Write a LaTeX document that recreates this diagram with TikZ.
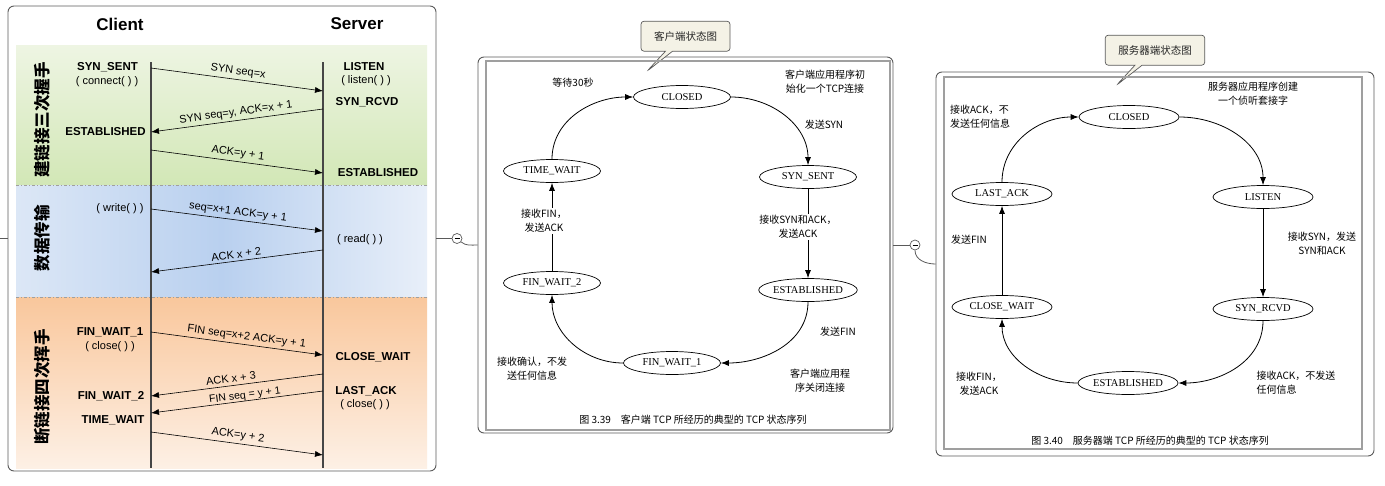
\documentclass[tikz,border=0pt]{standalone}
\usepackage{fontspec}
\setmainfont{Liberation Sans}
\newfontfamily\cjk{Noto Sans CJK SC}
\newfontfamily\scanfont{Liberation Serif}
\usetikzlibrary{arrows.meta,positioning,shapes.geometric,shapes.callouts}

\definecolor{greenTop}{HTML}{EEF5E3}
\definecolor{greenBot}{HTML}{D2E7B6}
\definecolor{blueSide}{HTML}{DCE7F6}
\definecolor{blueMid}{HTML}{B9D0EF}
\definecolor{blueRight}{HTML}{E8EFF9}
\definecolor{orangeTop}{HTML}{F9C79C}
\definecolor{orangeBot}{HTML}{FDF0E5}
\definecolor{tipfill}{HTML}{F4F2E6}
\definecolor{edgegray}{HTML}{5A5A5A}

\tikzset{
  panel/.style={draw=edgegray, line width=0.9pt, rounded corners=6pt, fill=white},
  imgframe/.style={draw=gray!75, line width=1.4pt},
  link/.style={draw=edgegray, line width=0.8pt},
  tog/.style={circle, draw=edgegray, fill=white, line width=0.7pt, minimum size=10pt, inner sep=0pt},
  tipbox/.style={rectangle callout, draw=edgegray, fill=tipfill, rounded corners=3pt, line width=0.7pt,
    font=\cjk\fontsize{10.5}{12}\selectfont, text=black!85, inner xsep=13pt, minimum height=30pt,
    callout relative pointer={(-22pt,-20pt)}},
  headtxt/.style={font=\bfseries\fontsize{17}{20}\selectfont},
  phase/.style={rotate=90, font=\cjk\bfseries\fontsize{16.5}{18}\selectfont},
  phasesep/.style={draw=gray!75, line width=0.6pt, dash pattern=on 3pt off 2pt on 1pt off 2pt},
  life/.style={draw=gray!55!black, line width=1.1pt},
  stlbl/.style={font=\bfseries\fontsize{11.5}{13}\selectfont, inner sep=0pt},
  fnlbl/.style={font=\fontsize{11}{13}\selectfont, inner sep=0pt},
  msg/.style={-{Latex[length=8pt,width=6pt]}, line width=0.6pt},
  msglbl/.style={font=\fontsize{11}{13}\selectfont, sloped, above, inner sep=2.5pt},
  stc/.style={ellipse, draw, line width=0.7pt, minimum width=97pt, minimum height=23pt, inner sep=0pt,
    font=\scanfont\fontsize{10.5}{12}\selectfont},
  sarr/.style={-{Latex[length=8pt,width=6pt]}, line width=0.8pt},
  note/.style={font=\cjk\fontsize{10}{14}\selectfont, align=center, inner sep=1pt},
  captxt/.style={font=\cjk\fontsize{10}{12}\selectfont, inner sep=0pt}
}

\begin{document}
\begin{tikzpicture}[x=1pt,y=1pt]
\useasboundingbox (0,0) rectangle (1385,-485);

% panels
\node[panel, minimum width=428pt, minimum height=465pt] (left) at (222,-238.5) {};
\node[panel, minimum width=415pt, minimum height=376pt] (mid) at (685.5,-245) {};
\node[panel, minimum width=438pt, minimum height=384pt] (right) at (1155,-264) {};

% mind map links
\coordinate (root) at (0,-238.5);
\draw[link] (root) -- (left.west);
\node[tog] (tog1) at (457,-238.5) {\rule{5pt}{0.8pt}};
\node[tog] (tog2) at (915,-245) {\rule{5pt}{0.8pt}};
\draw[link] (left.east) -- (tog1);
\draw[link] (tog1.-40) to[out=-40,in=180] (mid.west);
\draw[link] (mid.east) -- (tog2);
\draw[link] (tog2.-90) to[out=-90,in=180] (right.west);

% bands
\shade[top color=greenTop, bottom color=greenBot] (16,-45) rectangle (427,-185);
\shade[left color=blueSide, right color=blueRight, middle color=blueMid] (16,-185) rectangle (427,-297);
\shade[top color=orangeTop, bottom color=orangeBot] (16,-297) rectangle (427,-468);
\draw[phasesep] (16,-185) -- (427,-185);
\draw[phasesep] (16,-297) -- (427,-297);

\node[headtxt] (client) at (120,-24) {Client};
\node[headtxt] (server) at (357,-24) {Server};

\node[phase] (ph1) at (42,-120) {建链接三次握手};
\node[phase] (ph2) at (42,-238) {数据传输};
\node[phase] (ph3) at (42,-387) {断链接四次挥手};

% lifelines
\coordinate (clitop) at (151,-62);
\coordinate (clibot) at (151,-468);
\coordinate (srvtop) at (323,-62);
\coordinate (srvbot) at (323,-468);
\draw[life] (clitop) -- (clibot);
\draw[life] (srvtop) -- (srvbot);

% client states
\node[stlbl] (synsent) at (107.5,-67) {SYN\_SENT};
\node[fnlbl] (connect) at (107,-82) {( connect( ) )};
\node[stlbl] (cestab) at (105.5,-132) {ESTABLISHED};
\node[fnlbl] (write) at (120,-209) {( write( ) )};
\node[stlbl] (finwait1) at (110,-332) {FIN\_WAIT\_1};
\node[fnlbl] (cclose) at (110,-347) {( close( ) )};
\node[stlbl] (finwait2) at (111,-396) {FIN\_WAIT\_2};
\node[stlbl] (timewait) at (113,-420) {TIME\_WAIT};
% server states
\node[stlbl] (listen) at (364,-67) {LISTEN};
\node[fnlbl] (listenfn) at (366,-81) {( listen( ) )};
\node[stlbl] (synrcvd) at (367,-102) {SYN\_RCVD};
\node[stlbl] (sestab) at (378,-173) {ESTABLISHED};
\node[fnlbl] (read) at (360,-240) {( read( ) )};
\node[stlbl] (closewait) at (373,-357) {CLOSE\_WAIT};
\node[stlbl] (lastack) at (366,-391) {LAST\_ACK};
\node[fnlbl] (sclose) at (365,-405) {( close( ) )};

% three-way handshake
\coordinate (c1) at (151,-68); \coordinate (s1) at (323,-91);
\draw[msg] (c1) -- node[msglbl] (m1) {SYN seq=x} (s1);
\coordinate (s2) at (323,-109); \coordinate (c2) at (151,-132);
\draw[msg] (s2) -- node[msglbl] (m2) {SYN seq=y, ACK=x + 1} (c2);
\coordinate (c3) at (151,-150); \coordinate (s3) at (323,-173);
\draw[msg] (c3) -- node[msglbl] (m3) {ACK=y + 1} (s3);
% data
\coordinate (c4) at (151,-209); \coordinate (s4) at (323,-231);
\draw[msg] (c4) -- node[msglbl] (m4) {seq=x+1 ACK=y + 1} (s4);
\coordinate (s5) at (323,-250); \coordinate (c5) at (151,-272);
\draw[msg] (s5) -- node[msglbl] (m5) {ACK x + 2} (c5);
% four-way close
\coordinate (c6) at (151,-332); \coordinate (s6) at (323,-355);
\draw[msg] (c6) -- node[msglbl, pos=0.55] (m6) {FIN seq=x+2 ACK=y + 1} (s6);
\coordinate (s7) at (323,-374); \coordinate (c7) at (151,-396);
\draw[msg] (s7) -- node[msglbl, inner sep=3pt, pos=0.53] (m7) {ACK x + 3} (c7);
\coordinate (s8) at (323,-391); \coordinate (c8) at (151,-413);
\draw[msg] (s8) -- node[msglbl, inner sep=0pt, pos=0.45, font=\fontsize{10.5}{12}\selectfont] (m8) {FIN seq = y + 1} (c8);
\coordinate (c9) at (151,-432); \coordinate (s9) at (323,-455);
\draw[msg] (c9) -- node[msglbl] (m9) {ACK=y + 2} (s9);

% client state diagram
\node[tipbox, above=5pt of mid] (tipc) {客户端状态图};
\draw[imgframe] (486,-61) rectangle (890,-430);
\node[stc] (cclosed) at (682,-97) {CLOSED};
\node[stc] (ctimewait) at (552,-171) {TIME\_WAIT};
\node[stc] (csynsent) at (808,-177) {SYN\_SENT};
\node[stc] (cfinwait2) at (552,-283) {FIN\_WAIT\_2};
\node[stc] (cestab2) at (808,-290) {ESTABLISHED};
\node[stc] (cfinwait1) at (672,-363) {FIN\_WAIT\_1};
\draw[sarr] (ctimewait.north) to[out=90,in=180] (cclosed.west);
\draw[sarr] (cclosed.east) to[out=0,in=90] (csynsent.north);
\draw[sarr] (csynsent.south) -- (cestab2.north);
\draw[sarr] (cestab2.south) to[out=-90,in=0] (cfinwait1.east);
\draw[sarr] (cfinwait1.west) to[out=180,in=-90] (cfinwait2.south);
\draw[sarr] (cfinwait2.north) -- (ctimewait.south);
\node[note] (n30) at (573,-83) {等待30秒};
\node[note] (ninit) at (825,-82) {客户端应用程序初\\始化一个TCP连接};
\node[note] (nsyn) at (824,-125) {发送SYN};
\node[note, fill=white] (nsynack) at (798,-227) {接收SYN和ACK，\\发送ACK};
\node[note, fill=white] (nfin) at (544,-221) {接收FIN，\\发送ACK};
\node[note] (nsendfin) at (838,-332) {发送FIN};
\node[note] (nack) at (532,-369) {接收确认，不发\\送任何信息};
\node[note] (nclose) at (820,-381) {客户端应用程\\序关闭连接};
\node[captxt] (cap1) at (693,-420) {图 3.39\quad 客户端 TCP 所经历的典型的 TCP 状态序列};

% server state diagram
\node[tipbox, above=6pt of right] (tips) {服务器端状态图};
\draw[imgframe] (944,-77) rectangle (1362,-449);
\node[stc, minimum width=100pt] (sclosed) at (1129,-117) {CLOSED};
\node[stc, minimum width=100pt] (slastack) at (1002,-194) {LAST\_ACK};
\node[stc, minimum width=100pt] (slisten) at (1263,-197) {LISTEN};
\node[stc, minimum width=100pt] (sclosewait) at (1002,-307) {CLOSE\_WAIT};
\node[stc, minimum width=100pt] (ssynrcvd) at (1263,-309) {SYN\_RCVD};
\node[stc, minimum width=100pt] (sestab2) at (1128,-383) {ESTABLISHED};
\draw[sarr] (slastack.north) to[out=90,in=180] (sclosed.west);
\draw[sarr] (sclosed.east) to[out=0,in=90] (slisten.north);
\draw[sarr] (slisten.south) -- (ssynrcvd.north);
\draw[sarr] (ssynrcvd.south) to[out=-90,in=0] (sestab2.east);
\draw[sarr] (sestab2.west) to[out=180,in=-90] (sclosewait.south);
\draw[sarr] (sclosewait.north) -- (slastack.south);
\node[note] (nsrv) at (1253,-94) {服务器应用程序创建\\一个侦听套接字};
\node[note, align=left] (nlast) at (980,-117) {接收ACK，不\\发送任何信息};
\node[note] (nsfin) at (969,-240) {发送FIN};
\node[note] (nsynrx) at (1322,-244) {接收SYN，发送\\SYN和ACK};
\node[note, align=left] (nackrx) at (1296,-383) {接收ACK，不发送\\任何信息};
\node[note] (nfinrx) at (979,-384) {接收FIN，\\发送ACK};
\node[captxt] (cap2) at (1150,-441) {图 3.40\quad 服务器端 TCP 所经历的典型的 TCP 状态序列};
\end{tikzpicture}
\end{document}
